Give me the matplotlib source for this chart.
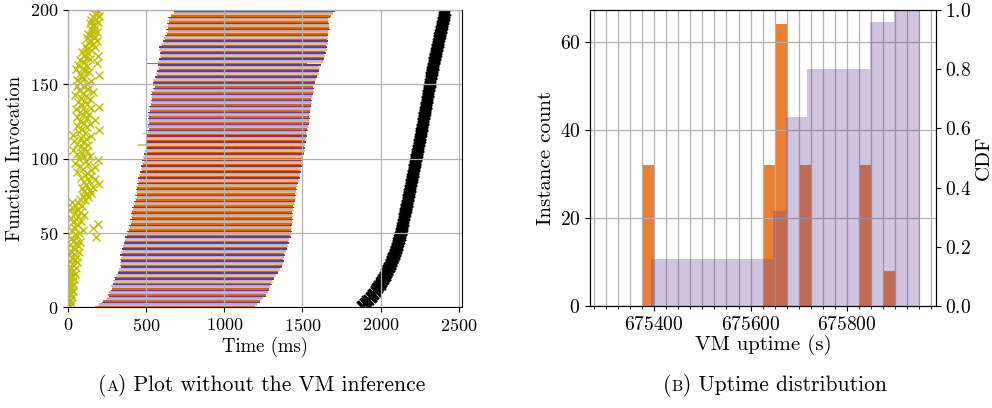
import matplotlib
matplotlib.use('Agg')
import numpy as np
import matplotlib.pyplot as plt
from matplotlib.ticker import MultipleLocator
from matplotlib.offsetbox import TextArea, HPacker, AnnotationBbox

plt.rcParams['font.family'] = 'cmr10'
plt.rcParams['mathtext.fontset'] = 'cm'
plt.rcParams['axes.formatter.use_mathtext'] = True

# ---- (a) per-invocation timeline, 200 invocations ----
exec_start = [
    172, 190, 196, 218, 224, 243, 250, 262, 258, 270,
    262, 278, 281, 283, 276, 290, 288, 295, 289, 301,
    296, 308, 309, 320, 322, 329, 327, 338, 331, 342,
    336, 338, 333, 340, 345, 331, 343, 340, 352, 343,
    350, 349, 361, 356, 367, 362, 372, 368, 378, 372,
    383, 378, 389, 385, 397, 391, 404, 398, 408, 400,
    410, 402, 411, 405, 412, 407, 417, 412, 424, 419,
    431, 424, 436, 430, 442, 432, 443, 433, 444, 434,
    443, 437, 449, 443, 453, 446, 458, 451, 462, 455,
    466, 460, 472, 465, 476, 469, 480, 473, 484, 476,
    488, 482, 494, 488, 500, 493, 503, 496, 506, 450,
    507, 497, 506, 499, 506, 498, 505, 475, 510, 504,
    516, 508, 515, 509, 516, 508, 519, 509, 518, 508,
    517, 511, 522, 515, 525, 518, 530, 524, 536, 528,
    537, 530, 538, 529, 538, 534, 548, 543, 557, 545,
    552, 541, 549, 546, 560, 555, 570, 563, 576, 570,
    583, 575, 586, 574, 503, 578, 585, 580, 593, 586,
    598, 587, 593, 583, 591, 585, 601, 597, 613, 609,
    619, 613, 628, 622, 634, 627, 639, 630, 643, 634,
    643, 635, 644, 636, 644, 641, 660, 660, 679, 677,
]
exec_end = [
    1195, 1210, 1211, 1226, 1228, 1244, 1248, 1264, 1266, 1277,
    1277, 1288, 1287, 1297, 1294, 1303, 1300, 1309, 1308, 1319,
    1317, 1328, 1328, 1341, 1343, 1358, 1359, 1369, 1367, 1377,
    1374, 1382, 1377, 1384, 1379, 1386, 1383, 1393, 1392, 1403,
    1402, 1409, 1404, 1411, 1406, 1416, 1415, 1425, 1423, 1430,
    1425, 1432, 1427, 1433, 1428, 1435, 1430, 1437, 1431, 1438,
    1433, 1440, 1434, 1441, 1436, 1443, 1438, 1446, 1442, 1450,
    1446, 1454, 1449, 1457, 1452, 1459, 1454, 1462, 1457, 1465,
    1459, 1468, 1465, 1474, 1470, 1478, 1474, 1482, 1478, 1486,
    1482, 1490, 1486, 1493, 1488, 1495, 1490, 1497, 1491, 1498,
    1494, 1503, 1500, 1510, 1507, 1514, 1509, 1516, 1511, 1518,
    1513, 1521, 1517, 1525, 1520, 1527, 1522, 1529, 1525, 1533,
    1530, 1539, 1535, 1543, 1539, 1547, 1543, 1550, 1544, 1550,
    1544, 1551, 1546, 1554, 1550, 1557, 1552, 1559, 1554, 1561,
    1557, 1565, 1561, 1569, 1565, 1572, 1566, 1572, 1566, 1575,
    1573, 1583, 1580, 1589, 1586, 1596, 1594, 1603, 1599, 1607,
    1604, 1612, 1608, 1618, 1530, 1629, 1629, 1638, 1635, 1644,
    1640, 1648, 1645, 1654, 1650, 1657, 1652, 1660, 1655, 1663,
    1657, 1664, 1659, 1666, 1661, 1669, 1665, 1673, 1669, 1678,
    1669, 1671, 1663, 1667, 1665, 1678, 1680, 1693, 1694, 1706,
]
request_sent = [
    4, 12, 2, 20, 8, 15, 3, 25, 10, 18,
    6, 30, 14, 2, 22, 35, 9, 28, 16, 40,
    5, 24, 45, 12, 33, 8, 50, 19, 38, 26,
    60, 14, 42, 28, 55, 6, 36, 70, 22, 48,
    30, 64, 12, 52, 80, 38, 20, 180, 58, 44,
    72, 26, 95, 160, 40, 66, 190, 34, 84, 50,
    18, 62, 100, 42, 75, 8, 55, 30, 88, 46,
    65, 24, 110, 80, 130, 95, 120, 150, 105, 140,
    90, 160, 115, 200, 100, 135, 170, 85, 145, 110,
    125, 60, 150, 95, 175, 80, 130, 45, 115, 190,
    70, 105, 140, 55, 90, 120, 35, 100, 75, 130,
    60, 95, 40, 115, 85, 150, 30, 110, 70, 200,
    90, 125, 55, 140, 100, 75, 170, 120, 60, 95,
    135, 80, 110, 50, 150, 200, 90, 125, 65, 105,
    140, 85, 115, 45, 95, 160, 70, 130, 100, 55,
    120, 80, 150, 60, 105, 90, 200, 75, 135, 110,
    50, 95, 125, 65, 185, 100, 80, 140, 115, 195,
    105, 130, 90, 150, 120, 175, 110, 160, 135, 185,
    140, 120, 170, 150, 130, 185, 160, 145, 175, 155,
    165, 140, 190, 150, 180, 160, 200, 170, 185, 195,
]
response_recv = [
    1878, 1890, 1900, 1906, 1914, 1925, 1935, 1944, 1952, 1960,
    1967, 1973, 1979, 1986, 1992, 1999, 2005, 2011, 2016, 2021,
    2026, 2031, 2035, 2040, 2044, 2048, 2053, 2058, 2063, 2067,
    2071, 2075, 2078, 2082, 2085, 2089, 2092, 2095, 2099, 2102,
    2105, 2108, 2111, 2114, 2117, 2120, 2122, 2125, 2128, 2131,
    2133, 2135, 2137, 2139, 2141, 2143, 2145, 2147, 2149, 2150,
    2152, 2154, 2156, 2158, 2160, 2162, 2164, 2166, 2168, 2170,
    2172, 2174, 2176, 2178, 2180, 2182, 2184, 2186, 2188, 2190,
    2192, 2193, 2195, 2197, 2199, 2201, 2203, 2205, 2207, 2209,
    2211, 2212, 2214, 2216, 2218, 2220, 2222, 2224, 2226, 2227,
    2229, 2231, 2233, 2235, 2237, 2239, 2240, 2242, 2244, 2246,
    2248, 2250, 2251, 2253, 2255, 2257, 2259, 2261, 2263, 2264,
    2266, 2268, 2270, 2271, 2273, 2275, 2277, 2279, 2280, 2282,
    2284, 2286, 2287, 2289, 2291, 2292, 2294, 2296, 2297, 2299,
    2300, 2302, 2304, 2305, 2307, 2309, 2310, 2312, 2314, 2315,
    2317, 2319, 2320, 2322, 2324, 2325, 2327, 2329, 2331, 2333,
    2334, 2336, 2338, 2340, 2342, 2344, 2346, 2348, 2350, 2352,
    2354, 2356, 2358, 2360, 2362, 2364, 2366, 2368, 2370, 2372,
    2374, 2376, 2378, 2381, 2383, 2386, 2388, 2391, 2393, 2395,
    2397, 2399, 2401, 2403, 2405, 2407, 2409, 2411, 2414, 2417,
]

# ---- (b) VM uptime of the instances ----
uptime_s = [675394, 675647, 675673, 675717, 675847, 675898]
instances = [32, 32, 64, 32, 32, 8]
cdf_end = 675951

bar_colors = ['#e66101', '#fdb863', '#b2abd2', '#5e3c99']

fig = plt.figure(figsize=(9.92, 4.08), dpi=100)
ax = fig.add_axes([0.0685, 0.2475, 0.3972, 0.728])
ax_h = fig.add_axes([0.5948, 0.25, 0.3485, 0.7255])

# timeline
inv = np.arange(len(exec_start))
start = np.array(exec_start)
end = np.array(exec_end)
ax.barh(inv, end - start, left=start, height=1.0,
        color=[bar_colors[i % 4] for i in inv], linewidth=0)
ax.plot(request_sent, inv, 'x', color='y', ms=5.5, mew=1.0)
ax.plot(response_recv, inv, 'x', color='k', ms=7, mew=1.6)
ax.set_xlim(0, 2520)
ax.set_ylim(0, 200)
ax.xaxis.set_major_locator(MultipleLocator(500))
ax.yaxis.set_major_locator(MultipleLocator(50))
ax.grid(True, color='#b0b0b0', linewidth=0.9)
ax.set_axisbelow(False)
ax.set_xlabel('Time (ms)', fontsize=13.5, labelpad=2)
ax.set_ylabel('Function Invocation', fontsize=13.5, labelpad=4)
ax.tick_params(labelsize=13)

# uptime histogram + CDF
bins = np.arange(675375, 675926, 25)
ax_h.hist(uptime_s, bins=bins, weights=instances, color='#e66101', alpha=0.8)
ax_h.set_xlim(675267, 675984)
ax_h.set_ylim(0, 67.2)
ax_h.xaxis.set_major_locator(MultipleLocator(200))
ax_h.xaxis.set_minor_locator(MultipleLocator(25))
ax_h.yaxis.set_major_locator(MultipleLocator(20))
ax_h.ticklabel_format(axis='x', useOffset=False, style='plain')
ax_h.grid(True, which='both', axis='x', color='#b0b0b0', linewidth=0.9)
ax_h.grid(True, which='major', axis='y', color='#b0b0b0', linewidth=0.9)
ax_h.set_xlabel('VM uptime (s)', fontsize=15, labelpad=1)
ax_h.set_ylabel('Instance count', fontsize=15, labelpad=3)
ax_h.tick_params(labelsize=14)

cdf = np.cumsum(instances) / np.sum(instances)
ax_c = ax_h.twinx()
ax_c.fill_between(uptime_s + [cdf_end], list(cdf) + [cdf[-1]], step='post',
                  color='#5e3c99', alpha=0.3, linewidth=0)
ax_c.set_ylim(0, 1.0)
ax_c.yaxis.set_major_locator(MultipleLocator(0.2))
ax_c.set_ylabel('CDF', fontsize=15, labelpad=2)
ax_c.tick_params(labelsize=14)


def caption(x, y, letter, text):
    parts = [TextArea('(', textprops=dict(fontsize=15.5)),
             TextArea(letter, textprops=dict(fontsize=11.5)),
             TextArea(') ' + text, textprops=dict(fontsize=15.5))]
    box = HPacker(children=parts, align='baseline', pad=0, sep=0)
    fig.add_artist(AnnotationBbox(box, (x, y), xycoords='figure fraction',
                                  frameon=False, box_alignment=(0.5, 0.5)))


caption(0.2636, 0.056, 'A', 'Plot without the VM inference')
caption(0.781, 0.056, 'B', 'Uptime distribution')

fig.savefig('out.png', dpi=100)
